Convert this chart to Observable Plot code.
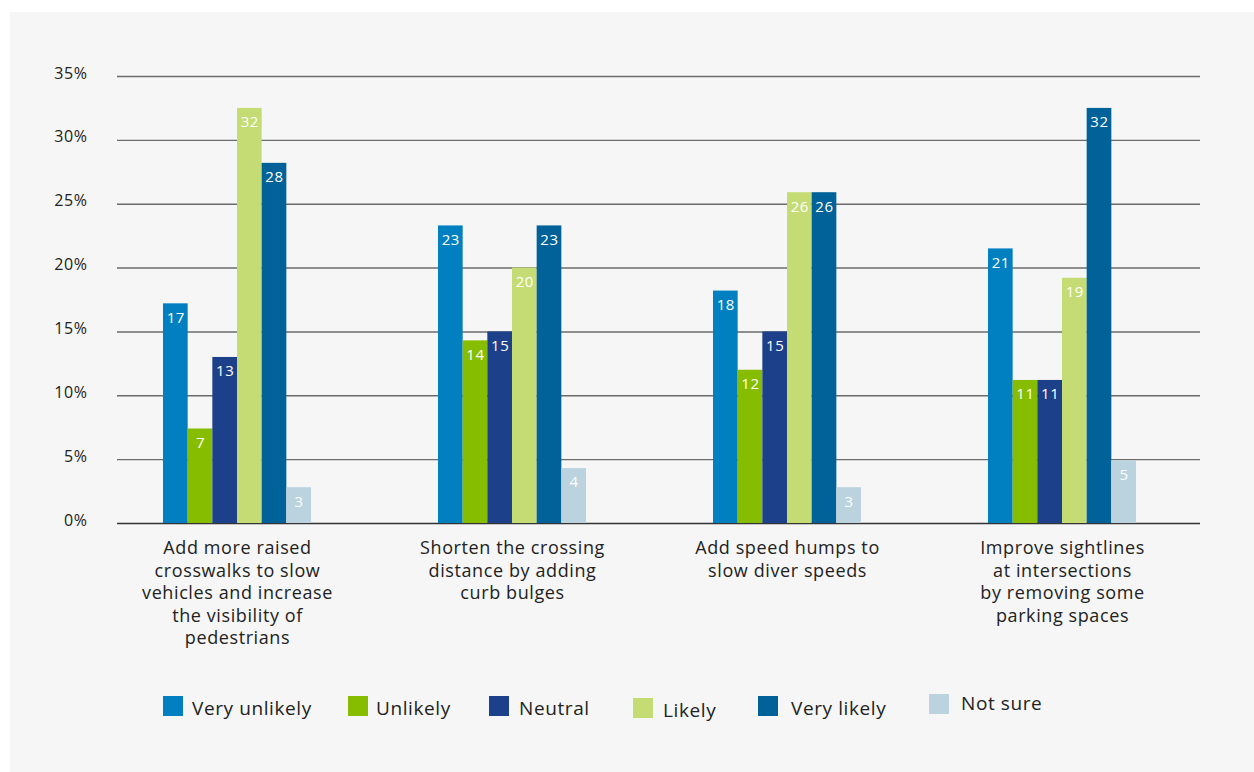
<!DOCTYPE html>
<html>
<head>
<meta charset="utf-8">
<script src="https://cdn.jsdelivr.net/npm/d3@7"></script>
<script src="https://cdn.jsdelivr.net/npm/@observablehq/plot@0.6"></script>
<style>
  html, body { margin: 0; padding: 0; background: #ffffff; }
  body { width: 1254px; height: 772px; position: relative; overflow: hidden; font-family: "Open Sans", sans-serif; }
  #panel { position: absolute; left: 10px; top: 12px; right: 0; bottom: 0; background: #f5f6f5; }
  #grid, #chart { position: absolute; left: 0; top: 0; }
  #legend { position: absolute; left: 0; top: 0; width: 1254px; height: 772px; pointer-events: none; }
  .item { position: absolute; display: flex; align-items: center; font-size: 19px; letter-spacing: 0.6px; color: #222; white-space: nowrap; }
  .sw { width: 20px; height: 20px; display: inline-block; }
</style>
</head>
<body>
<div id="panel"></div>
<div id="grid"></div>
<div id="chart"></div>
<div id="legend"></div>
<script>
// ---- data ----
const groups = [
  "Add more raised\ncrosswalks to slow\nvehicles and increase\nthe visibility of\npedestrians",
  "Shorten the crossing\ndistance by adding\ncurb bulges",
  "Add speed humps to\nslow diver speeds",
  "Improve sightlines\nat intersections\nby removing some\nparking spaces"
];
const responses = ["Very unlikely", "Unlikely", "Neutral", "Likely", "Very likely", "Not sure"];
const colors = ["#0080c0", "#86bd00", "#1c418a", "#c4dc73", "#006298", "#bbd2df"];
// bar heights (percent), one list per response, in group order
const veryUnlikely = [17.2, 23.3, 18.2, 21.5];
const unlikely     = [7.4, 14.3, 12.0, 11.2];
const neutral      = [13.0, 15.0, 15.0, 11.2];
const likely       = [32.5, 20.0, 25.9, 19.2];
const veryLikely   = [28.2, 23.3, 25.9, 32.5];
const notSure      = [2.8, 4.3, 2.8, 4.9];
// printed labels
const lblVeryUnlikely = [17, 23, 18, 21];
const lblUnlikely     = [7, 14, 12, 11];
const lblNeutral      = [13, 15, 15, 11];
const lblLikely       = [32, 20, 26, 19];
const lblVeryLikely   = [28, 23, 26, 32];
const lblNotSure      = [3, 4, 3, 5];
const yTicks = [0, 5, 10, 15, 20, 25, 30, 35];

const seriesValues = [veryUnlikely, unlikely, neutral, likely, veryLikely, notSure];
const seriesLabels = [lblVeryUnlikely, lblUnlikely, lblNeutral, lblLikely, lblVeryLikely, lblNotSure];

const rows = [];
groups.forEach((g, gi) => {
  responses.forEach((r, ri) => {
    rows.push({group: g, response: r, value: seriesValues[ri][gi], label: seriesLabels[ri][gi]});
  });
});

const H = 660, MT = 76, MB = 137;
const baseStyle = {background: "transparent", fontFamily: "Open Sans, sans-serif", color: "#222", letterSpacing: "0.6px"};

// background grid + y axis
const grid = Plot.plot({
  width: 1254, height: H,
  marginLeft: 117, marginRight: 54, marginTop: MT, marginBottom: MB,
  style: baseStyle,
  y: {domain: [0, 35], axis: null},
  marks: [
    Plot.ruleY(yTicks.filter(d => d > 0), {stroke: "#6b6b6b", strokeWidth: 1.4}),
    Plot.ruleY([0], {stroke: "#333", strokeWidth: 1.4}),
    Plot.axisY({ticks: yTicks, tickFormat: d => d + "%", tickSize: 0, tickPadding: 30,
      fontSize: 16, dy: -3, label: null, anchor: "left"})
  ]
});
document.getElementById("grid").appendChild(grid);

// bars
const chart = Plot.plot({
  width: 1254, height: H,
  marginLeft: 163, marginRight: 118, marginTop: MT, marginBottom: MB,
  style: baseStyle,
  fx: {domain: groups, paddingInner: 0.4618, paddingOuter: 0, round: false, label: null, axis: null},
  x: {domain: responses, padding: 0, round: false, axis: null},
  y: {domain: [0, 35], axis: null},
  color: {domain: responses, range: colors},
  marks: [
    Plot.barY(rows, {fx: "group", x: "response", y: "value", fill: "response"}),
    Plot.text(rows, {fx: "group", x: "response", y: "value", text: d => String(d.label),
      fill: "white", fontSize: 15, dy: 14, lineAnchor: "middle"}),
    Plot.axisFx({tickSize: 0, tickPadding: 15, fontSize: 18, lineHeight: 1.25, label: null,
      anchor: "bottom", fill: "#222"})
  ]
});
document.getElementById("chart").appendChild(chart);

// ---- legend (HTML) ----
const legendLeft = [163, 348, 489, 633, 758, 929];
const legendTop  = [696, 696, 696, 698, 696, 694];
const textGap    = [9, 8, 10, 10, 13, 12];
const legend = document.getElementById("legend");
responses.forEach((r, i) => {
  const it = document.createElement("div");
  it.className = "item";
  it.style.left = legendLeft[i] + "px";
  it.style.top = legendTop[i] + "px";
  it.style.height = "20px";
  const sw = document.createElement("span");
  sw.className = "sw";
  sw.style.background = colors[i];
  sw.style.marginRight = textGap[i] + "px";
  const tx = document.createElement("span");
  tx.textContent = r;
  tx.style.position = "relative";
  tx.style.top = (i === 5 ? "-1px" : "2px");
  it.appendChild(sw);
  it.appendChild(tx);
  legend.appendChild(it);
});
</script>
</body>
</html>
